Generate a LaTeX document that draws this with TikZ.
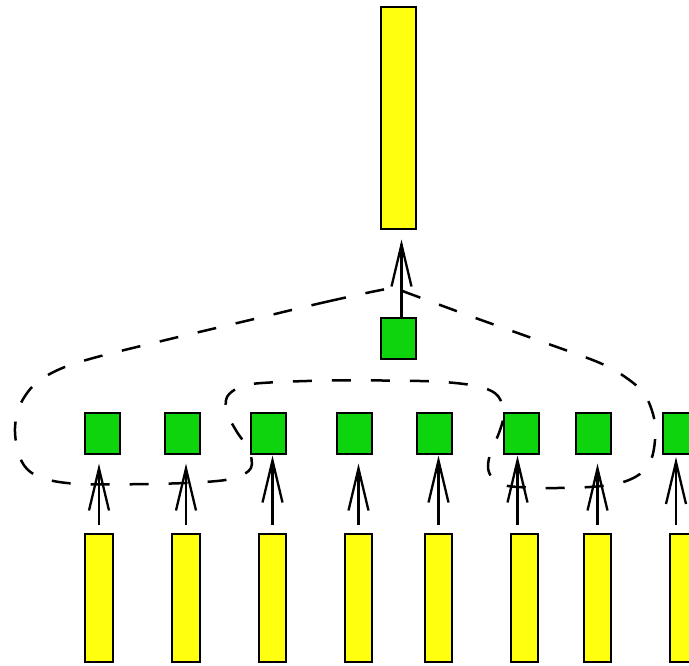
\documentclass[tikz,border=0pt]{standalone}
\usetikzlibrary{arrows.meta,calc}
\definecolor{boxyellow}{RGB}{255,255,16}
\definecolor{boxgreen}{RGB}{14,212,14}

% open V-shaped arrow tip made of two straight strokes
\pgfdeclarearrow{
  name = OpenVee,
  parameters = {\the\pgfarrowlength,\the\pgfarrowwidth,\the\pgfarrowlinewidth},
  setup code = {
    \pgfarrowssettipend{0pt}
    \pgfarrowssetlineend{-0.5\pgfarrowlinewidth}
    \pgfarrowssetvisualbackend{-\pgfarrowlength}
    \pgfarrowssetbackend{-\pgfarrowlength}
    \pgfarrowssavethe\pgfarrowlength
    \pgfarrowssavethe\pgfarrowwidth
  },
  drawing code = {
    \pgfsetdash{}{0pt}
    \pgfsetmiterjoin
    \pgfpathmoveto{\pgfqpoint{-\pgfarrowlength}{.5\pgfarrowwidth}}
    \pgfpathlineto{\pgfpointorigin}
    \pgfpathlineto{\pgfqpoint{-\pgfarrowlength}{-.5\pgfarrowwidth}}
    \pgfusepathqstroke
  },
  defaults = {length=42pt, width=20pt}
}

\begin{document}
\begin{tikzpicture}[x=1pt,y=-1pt,
  ybar/.style={draw=black, line width=2pt, fill=boxyellow, inner sep=0pt,
               minimum width=27.5pt, minimum height=128pt},
  gsq/.style={draw=black, line width=2pt, fill=boxgreen, inner sep=0pt,
              minimum width=35pt, minimum height=41pt},
  feed/.style={line width=2.3pt, -{OpenVee[length=42pt,width=20pt]}},
  group/.style={line width=2.5pt, dash pattern=on 19pt off 20pt}
]
\useasboundingbox (0,0) rectangle (689,666);
\clip (0,0) rectangle (689,666);

% output bar and the single unit feeding it
\node[ybar, minimum width=35pt, minimum height=222.5pt] (top) at (398.5,118.25) {};
\node[gsq] (gm) at (398,338.5) {};

% row of units
\node[gsq] (g1) at (102.5,433) {};
\node[gsq] (g2) at (182,433) {};
\node[gsq] (g3) at (268.5,433) {};
\node[gsq] (g4) at (354.5,433) {};
\node[gsq] (g5) at (434.5,433) {};
\node[gsq] (g6) at (521,433) {};
\node[gsq] (g7) at (593,433) {};
\node[gsq] (g8) at (680.5,433) {};

% input bars
\node[ybar] (y1) at (99,598) {};
\node[ybar] (y2) at (186,598) {};
\node[ybar] (y3) at (272.5,598) {};
\node[ybar] (y4) at (358.5,598) {};
\node[ybar] (y5) at (438.5,598) {};
\node[ybar] (y6) at (524.5,598) {};
\node[ybar] (y7) at (597.5,598) {};
\node[ybar] (y8) at (683.5,598) {};

% input arrows
\draw[feed] ($(y1.north)+(0,-8)$) -- ($(y1.north |- g1.south)+(0,14)$);
\draw[feed] ($(y2.north)+(0,-8)$) -- ($(y2.north |- g2.south)+(0,14)$);
\draw[feed] ($(y3.north)+(0,-8)$) -- ($(y3.north |- g3.south)+(0,6)$);
\draw[feed] ($(y4.north)+(0,-8)$) -- ($(y4.north |- g4.south)+(0,14)$);
\draw[feed] ($(y5.north)+(0,-8)$) -- ($(y5.north |- g5.south)+(0,6)$);
\draw[feed] ($(y6.north)+(-7,-8)$) -- ($(y6.north |- g6.south)+(-7,6)$);
\draw[feed] ($(y7.north)+(0,-8)$) -- ($(y7.north |- g7.south)+(0,14)$);
\draw[feed] ($(y8.north)+(-7.5,-8)$) -- ($(y8.north |- g8.south)+(-7.5,7.5)$);

% output arrow
\draw[feed] ($(gm.north)+(3.5,0)$) -- ($(gm.north |- top.south)+(3.5,14)$);

% dashed grouping outline
\draw[group] plot[smooth cycle, tension=0.55] coordinates {
  (393,288) (330,301) (250,320) (170,339) (97,357) (60,369) (35,384)
  (20,405) (15,428) (18,452) (27,469) (45,479) (80,484) (150,484)
  (205,482) (235,478) (251,468) (249,450) (237,432) (227,413) (227,397)
  (240,387) (262,383) (330,380.5) (420,381) (460,383.5) (484,388)
  (498,396) (504,413) (499,433) (491,451) (488,468) (494,480) (508,486)
  (545,488) (590,487) (620,483) (640,474) (651,460) (655,440) (654,418)
  (645,395) (628,379) (600,363) (540,341) (470,316) (405,292)
};
\end{tikzpicture}
\end{document}
